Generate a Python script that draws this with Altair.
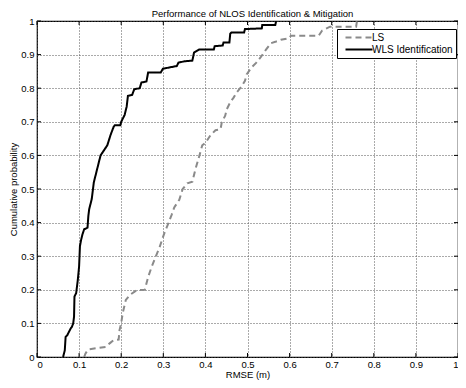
import altair as alt
import pandas as pd

# ---- data ----
wls_x = [0.062, 0.064, 0.066, 0.067, 0.068, 0.072, 0.076, 0.080, 0.083, 0.086,
         0.088, 0.089, 0.093, 0.097, 0.100, 0.102, 0.105, 0.108, 0.112, 0.120,
         0.122, 0.124, 0.130, 0.135, 0.143, 0.151, 0.159, 0.167, 0.1745, 0.182,
         0.185, 0.198, 0.200, 0.208, 0.213, 0.216, 0.226, 0.231, 0.244, 0.248,
         0.260, 0.264, 0.294, 0.299, 0.332, 0.336, 0.350, 0.369, 0.373, 0.385,
         0.420, 0.422, 0.441, 0.443, 0.457, 0.459, 0.462, 0.492, 0.494, 0.534,
         0.535, 0.566, 0.568]
wls_y = [0.00, 0.01, 0.02, 0.04, 0.06, 0.065, 0.075, 0.085, 0.09, 0.10,
         0.12, 0.18, 0.19, 0.23, 0.27, 0.33, 0.35, 0.365, 0.38, 0.385,
         0.42, 0.44, 0.47, 0.52, 0.56, 0.60, 0.615, 0.63, 0.66, 0.685,
         0.69, 0.69, 0.70, 0.72, 0.745, 0.777, 0.78, 0.797, 0.80, 0.817,
         0.82, 0.847, 0.847, 0.858, 0.866, 0.876, 0.88, 0.882, 0.906, 0.915,
         0.915, 0.925, 0.927, 0.936, 0.936, 0.962, 0.966, 0.966, 0.976, 0.978,
         0.988, 0.988, 1.0]

ls_x = [0.112, 0.115, 0.120, 0.124, 0.163, 0.174, 0.182, 0.194, 0.196, 0.200,
        0.2035, 0.211, 0.221, 0.237, 0.256, 0.264, 0.272, 0.283, 0.291, 0.299,
        0.303, 0.311, 0.320, 0.326, 0.338, 0.346, 0.357, 0.369, 0.377, 0.385,
        0.3925, 0.400, 0.412, 0.424, 0.436, 0.439, 0.447, 0.451, 0.459, 0.467,
        0.474, 0.486, 0.494, 0.498, 0.509, 0.521, 0.533, 0.544, 0.556, 0.568,
        0.579, 0.599, 0.603, 0.669, 0.677, 0.696, 0.758, 0.760]
ls_y = [0.0, 0.01, 0.02, 0.023, 0.03, 0.042, 0.05, 0.052, 0.08, 0.10,
        0.13, 0.17, 0.185, 0.199, 0.20, 0.238, 0.267, 0.302, 0.326, 0.356,
        0.37, 0.395, 0.424, 0.445, 0.468, 0.50, 0.517, 0.522, 0.562, 0.596,
        0.63, 0.637, 0.66, 0.675, 0.678, 0.699, 0.718, 0.738, 0.758, 0.772,
        0.787, 0.805, 0.822, 0.841, 0.861, 0.876, 0.895, 0.915, 0.934, 0.939,
        0.944, 0.949, 0.956, 0.956, 0.971, 0.983, 0.983, 1.0]

series_names = ["LS", "WLS Identification"]
tick_values = [0.0, 0.1, 0.2, 0.3, 0.4, 0.5, 0.6, 0.7, 0.8, 0.9, 1.0]
title_text = "Performance of NLOS Identification & Mitigation"
x_title = "RMSE (m)"
y_title = "Cumulative probability"

df = pd.concat([
    pd.DataFrame({"x": ls_x, "y": ls_y, "series": series_names[0]}),
    pd.DataFrame({"x": wls_x, "y": wls_y, "series": series_names[1]}),
], ignore_index=True)
df["order"] = range(len(df))
ticks_df = pd.DataFrame({"x": tick_values, "y": tick_values})

W, H = 421, 336
FONT = "Liberation Sans"
xs = alt.Scale(domain=[0, 1], nice=False, zero=False)
ys = alt.Scale(domain=[0, 1], nice=False, zero=False)

axis_common = dict(values=tick_values, format=".1~f", grid=True, ticks=False,
                   domain=False, gridColor="#555555", gridDash=[1, 2],
                   gridWidth=1, labelFont=FONT, labelFontSize=9.5,
                   labelColor="black", titleFont=FONT, titleFontSize=9.5,
                   titleFontWeight="normal", titleColor="black")
x_axis = alt.Axis(labelPadding=2, titlePadding=1, **axis_common)
y_axis = alt.Axis(labelPadding=3, titlePadding=2, **axis_common)

lines = alt.Chart(df).mark_line(strokeWidth=2, clip=True).encode(
    x=alt.X("x:Q", scale=xs, title=x_title, axis=x_axis),
    y=alt.Y("y:Q", scale=ys, title=y_title, axis=y_axis),
    color=alt.Color("series:N",
                    scale=alt.Scale(domain=series_names, range=["#8a8a8a", "#000000"]),
                    title=None,
                    legend=alt.Legend(orient="none", legendX=300, legendY=8,
                                      symbolType="M0,0H6", symbolSize=81,
                                      symbolStrokeWidth=2, labelFont=FONT,
                                      labelFontSize=10, labelColor="black",
                                      labelOffset=21, padding=3, rowPadding=1,
                                      strokeColor="black", fillColor="white")),
    strokeDash=alt.StrokeDash("series:N",
                              scale=alt.Scale(domain=series_names, range=[[6, 4], [1, 0]]),
                              title=None),
    order="order:Q",
)

tick_len = 4
xt_bottom = alt.Chart(ticks_df).mark_rule(color="black", strokeWidth=1).encode(
    x=alt.X("x:Q", scale=xs, title=x_title, axis=x_axis), y=alt.value(H), y2=alt.value(H - tick_len))
xt_top = alt.Chart(ticks_df).mark_rule(color="black", strokeWidth=1).encode(
    x=alt.X("x:Q", scale=xs, title=x_title, axis=x_axis), y=alt.value(0), y2=alt.value(tick_len))
yt_left = alt.Chart(ticks_df).mark_rule(color="black", strokeWidth=1).encode(
    y=alt.Y("y:Q", scale=ys, title=y_title, axis=y_axis), x=alt.value(0), x2=alt.value(tick_len))
yt_right = alt.Chart(ticks_df).mark_rule(color="black", strokeWidth=1).encode(
    y=alt.Y("y:Q", scale=ys, title=y_title, axis=y_axis), x=alt.value(W), x2=alt.value(W - tick_len))

chart = alt.layer(lines, xt_bottom, xt_top, yt_left, yt_right).properties(
    width=W, height=H,
    title=alt.TitleParams(title_text, font=FONT, fontSize=9.5, fontWeight="normal",
                          color="black", offset=3, anchor="middle", frame="group",
                          dx=5, dy=5),
    autosize=alt.AutoSizeParams(type="none"),
    padding={"left": 29, "top": 13, "right": 0, "bottom": 23},
).configure_view(stroke="black", strokeWidth=1.2)

chart.save("out.html", embed_options={"renderer": "svg", "actions": False})
